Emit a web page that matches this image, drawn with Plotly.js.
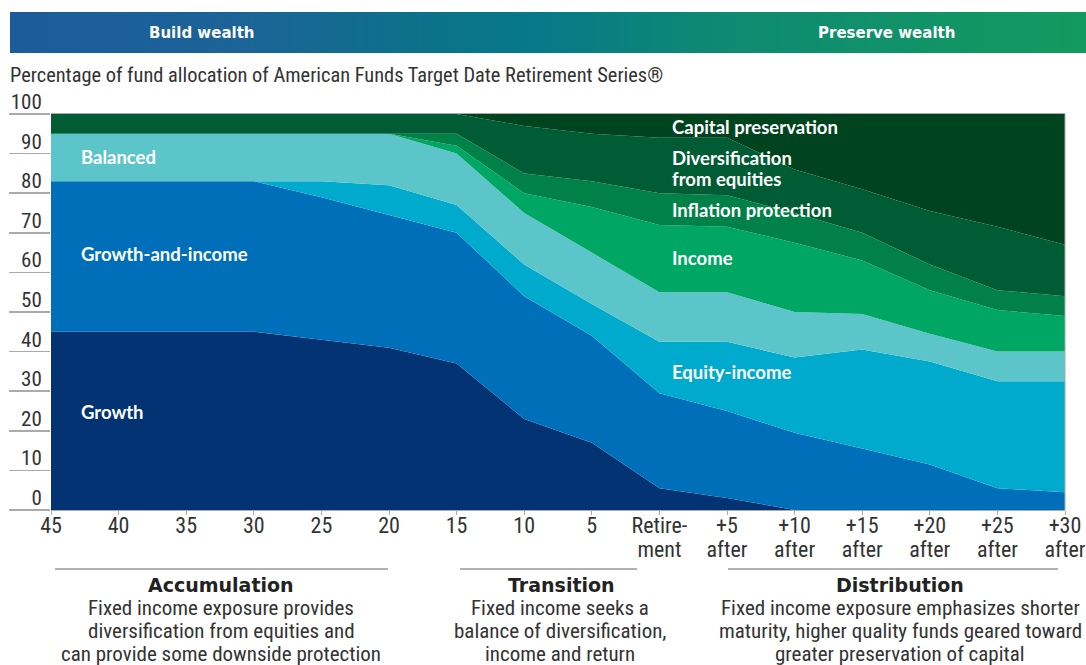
<!DOCTYPE html>
<html>
<head>
<meta charset="utf-8">
<script src="https://cdn.plot.ly/plotly-3.0.1.min.js"></script>
<style>
  html, body { margin:0; padding:0; background:#fff; }
  #wrap { position:relative; width:1086px; height:665px; overflow:hidden; }
  #banner { position:absolute; left:10px; top:12px; width:1076px; height:41px;
    background: linear-gradient(90deg, #1c5b9c 0%, #1b6497 22%, #0b7389 40%, #067a88 50%, #0e8a72 66%, #139a5f 100%); }
  #chart { position:absolute; left:0; top:0; width:1086px; height:665px; }
</style>
</head>
<body>
<div id="wrap">
  <div id="banner"></div>
  <div id="chart"></div>
</div>
<script>
// ---- data ----
const categories = ['45','40','35','30','25','20','15','10','5','Retirement','+5 after','+10 after','+15 after','+20 after','+25 after','+30 after'];
const tickLine1 = ['45','40','35','30','25','20','15','10','5','Retire-','+5','+10','+15','+20','+25','+30'];
const tickLine2 = ['','','','','','','','','','ment','after','after','after','after','after','after'];

const growth          = [45,45,45,45,43,41,37,23,17,5.5,3,0,0,0,0,0];
const growthAndIncome = [38,38,38,38,36,33.5,33,31,27,24,22,19.5,15.5,11.5,5.5,4.5];
const equityIncome    = [0,0,0,0,4,7.5,7,8,8,13,17.5,19,25,26,27,28];
const balanced        = [12,12,12,12,12,13,13,13,13,12.5,12.5,11.5,9,7,7.5,7.5];
const income          = [0,0,0,0,0,0,2,5,11.5,17,16.5,17.5,13.5,11,10.5,9];
const inflationProt   = [0,0,0,0,0,0,3,5,6.5,8,8,7.5,7,6.5,5,5];
const diversification = [5,5,5,5,5,5,5,12,12,14,14.5,11,11,13.5,16,13];
const capitalPres     = [0,0,0,0,0,0,0,3,5,6,6,14,19,24.5,28.5,33];

const yTicks = [0,10,20,30,40,50,60,70,80,90,100];

const seriesNames = ['Growth','Growth-and-income','Equity-income','Balanced','Income','Inflation protection','Diversification from equities','Capital preservation'];
const seriesData = [growth, growthAndIncome, equityIncome, balanced, income, inflationProt, diversification, capitalPres];
const seriesColors = ['#033373','#006fb9','#00aacd','#5bc5c9','#00a664','#008148','#005c34','#00441f'];

const xIdx = categories.map((c,i)=>i);

const traces = seriesData.map((d,k)=>({
  type:'scatter', x:xIdx, y:d, name:seriesNames[k], stackgroup:'one', mode:'none',
  fillcolor:seriesColors[k], line:{width:0}, hoverinfo:'skip', showlegend:false
}));
traces.push({type:'scatter', x:[0], y:[0], xaxis:'x2', mode:'none', hoverinfo:'skip', showlegend:false});

const L = 51, R = 21, T = 114, B = 155;
const W = 1086 - L - R, H = 665 - T - B;
const px = v => (v - L) / W;
const py = v => (665 - B - v) / H;

const cond = 'Roboto Condensed, Liberation Sans Narrow, sans-serif';
const lab = 'Lato, Noto Sans, sans-serif';
const wide = 'DejaVu Sans, sans-serif';

const annotations = [];
function txt(text, x, y, opts) {
  annotations.push(Object.assign({text:text, x:px(x), y:py(y), xref:'paper', yref:'paper',
    showarrow:false, xanchor:'center', yanchor:'middle',
    font:{family:cond, size:20, color:'#333'}}, opts||{}));
}
// banner texts
const banF = {family:wide, size:15, color:'#fff', weight:700};
txt('Build wealth', 202, 33, {font:banF});
txt('Preserve wealth', 886, 33, {font:banF});
// subtitle
txt('Percentage of fund allocation of American Funds Target Date Retirement Series®', 8, 75, {xanchor:'left', font:{family:cond, size:20.4, color:'#333'}});

// in-chart labels (data coordinates)
function inl(text, x, yv) {
  annotations.push({text:text, x:x, y:yv, xref:'x', yref:'y', showarrow:false, xanchor:'left', yanchor:'middle',
    font:{family:lab, size:18.5, color:'#fff', weight:700}});
}
inl('Balanced', 0.41, 89.1);
inl('Growth-and-income', 0.41, 64.6);
inl('Growth', 0.41, 24.7);
inl('Capital preservation', 9.15, 96.7);
inl('Diversification', 9.15, 88.9);
inl('from equities', 9.15, 83.5);
inl('Inflation protection', 9.15, 75.8);
inl('Income', 9.15, 63.6);
inl('Equity-income', 9.15, 34.8);

// bottom phase texts
const headF = {family:wide, size:19, color:'#222', weight:700};
const descF = {family:cond, size:21, color:'#333'};
txt('Accumulation', 221, 585, {font:headF});
txt('Fixed income exposure provides', 221, 608, {font:descF});
txt('diversification from equities and', 221, 631, {font:descF});
txt('can provide some downside protection', 221, 654, {font:descF});
txt('Transition', 561, 585, {font:headF});
txt('Fixed income seeks a', 560, 608, {font:descF});
txt('balance of diversification,', 560, 631, {font:descF});
txt('income and return', 560, 654, {font:descF});
txt('Distribution', 900, 585, {font:headF});
txt('Fixed income exposure emphasizes shorter', 900, 608, {font:descF});
txt('maturity, higher quality funds geared toward', 900, 631, {font:descF});
txt('greater preservation of capital', 900, 654, {font:descF});

const shapes = [
  {type:'line', xref:'paper', yref:'paper', x0:px(55), x1:px(388), y0:py(569), y1:py(569), line:{color:'#999', width:1.5}},
  {type:'line', xref:'paper', yref:'paper', x0:px(460), x1:px(637), y0:py(569), y1:py(569), line:{color:'#999', width:1.5}},
  {type:'line', xref:'paper', yref:'paper', x0:px(728), x1:px(1058), y0:py(569), y1:py(569), line:{color:'#999', width:1.5}},
  {type:'line', xref:'paper', yref:'paper', x0:1, x1:1, y0:0, y1:1, line:{color:'#aaa', width:1}}
];

const layout = {
  width:1086, height:665,
  margin:{l:L, r:R, t:T, b:B, pad:0},
  paper_bgcolor:'rgba(0,0,0,0)', plot_bgcolor:'rgba(0,0,0,0)',
  showlegend:false,
  xaxis:{range:[0,15], tickvals:xIdx, ticktext:tickLine1, showgrid:false, zeroline:false,
    showline:true, mirror:true, linecolor:'#aaa', linewidth:1,
    ticks:'outside', ticklen:4, tickcolor:'#aaa', tickwidth:1, ticklabelstandoff:-8,
    tickfont:{family:cond, size:22, color:'#333'}, fixedrange:true},
  xaxis2:{overlaying:'x', anchor:'y', side:'bottom', range:[0,15], tickvals:xIdx, ticktext:tickLine2,
    showgrid:false, zeroline:false, showline:false, ticks:'', ticklabelstandoff:24,
    tickfont:{family:cond, size:22, color:'#333'}, fixedrange:true},
  yaxis:{range:[0,100], tickvals:yTicks, ticktext:yTicks.map(String), showgrid:false, zeroline:false,
    showline:false, ticks:'outside', ticklen:41, tickcolor:'#aaa', tickwidth:1.5,
    ticklabelposition:'outside top', ticklabelstandoff:4, ticklabelshift:3,
    tickfont:{family:cond, size:21, color:'#333'}, fixedrange:true},
  annotations:annotations,
  shapes:shapes
};

Plotly.newPlot('chart', traces, layout, {staticPlot:true, displayModeBar:false});
</script>
</body>
</html>
